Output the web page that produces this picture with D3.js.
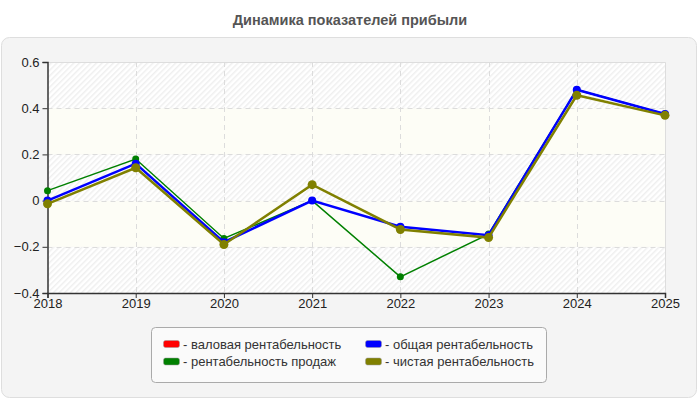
<!DOCTYPE html>
<html>
<head>
<meta charset="utf-8">
<script src="https://cdnjs.cloudflare.com/ajax/libs/d3/7.8.5/d3.min.js"></script>
<style>
  body { margin: 0; background: #fff; }
  text { font-family: "Liberation Sans", Arial, sans-serif; }
</style>
</head>
<body>
<div id="chart"></div>
<script>
var width = 700,
    height = 400;

var years = [2018, 2019, 2020, 2021, 2022, 2023, 2024, 2025];
var yTicks = [-0.4, -0.2, 0, 0.2, 0.4, 0.6];

var grossValues = [null, null, null, null, null, null, null, null];
var totalValues = [0.0, 0.16, -0.18, 0.0, -0.113, -0.15, 0.48, 0.375];
var salesValues = [0.043, 0.18, -0.164, 0.0, -0.33, -0.145, 0.48, 0.375];
var netValues = [-0.014, 0.142, -0.19, 0.069, -0.125, -0.16, 0.456, 0.369];

var seriesNames = ["валовая рентабельность", "рентабельность продаж", "общая рентабельность", "чистая рентабельность"];
var seriesColors = ["#ff0000", "#008000", "#0000ff", "#808000"];

var series = [
    {name: seriesNames[0], color: seriesColors[0], values: grossValues, w: 2.5, r: 4},
    {name: seriesNames[1], color: seriesColors[1], values: salesValues, w: 1.5, r: 3.5},
    {name: seriesNames[2], color: seriesColors[2], values: totalValues, w: 2.5, r: 4},
    {name: seriesNames[3], color: seriesColors[3], values: netValues, w: 2.5, r: 4.5}
];

var margin = {left: 47.5, right: 35, top: 62, bottom: 107};

var svg = d3.select("#chart")
    .append("svg")
    .attr("width", width)
    .attr("height", height)

// hatch pattern
var defs = svg.append("defs")
var pat = defs.append("pattern")
    .attr("id", "hatch")
    .attr("patternUnits", "userSpaceOnUse")
    .attr("width", 4)
    .attr("height", 4)
    .attr("patternTransform", "rotate(45)")
pat.append("rect").attr("width", 4).attr("height", 4).attr("fill", "#ffffff")
pat.append("rect").attr("width", 1.5).attr("height", 4).attr("fill", "#efefef")

svg.append("text")
    .attr("x", width / 2)
    .attr("y", 25)
    .attr("text-anchor", "middle")
    .attr("font-size", 14.5)
    .attr("font-weight", "bold")
    .attr("fill", "#555")
    .text("Динамика показателей прибыли")

svg.append("rect")
    .attr("x", 1.5)
    .attr("y", 37.5)
    .attr("width", 695)
    .attr("height", 360)
    .attr("rx", 8)
    .attr("fill", "#f4f4f4")
    .attr("stroke", "#dedede")

var x = d3.scaleLinear()
    .domain([years[0], years[years.length - 1]])
    .range([margin.left, width - margin.right])

var y = d3.scaleLinear()
    .domain([-0.4, 0.6])
    .range([height - margin.bottom, margin.top])

// bands
var bands = d3.range(yTicks.length - 1)
svg.selectAll(".band")
    .data(bands)
    .enter().append("rect")
    .attr("class", "band")
    .attr("x", x.range()[0])
    .attr("width", x.range()[1] - x.range()[0])
    .attr("y", function(i){ return y(yTicks[i + 1]) })
    .attr("height", function(i){ return y(yTicks[i]) - y(yTicks[i + 1]) })
    .attr("fill", function(i){ return i % 2 == 0 ? "url(#hatch)" : "#fdfdf6" })

// frame top/right
svg.append("path")
    .attr("d", "M" + x.range()[0] + "," + (y(0.6) + 0.5) + "H" + (x.range()[1] + 0.5) + "V" + y(-0.4))
    .attr("fill", "none")
    .attr("stroke", "#dddddd")

// grid
svg.selectAll(".hgrid")
    .data(yTicks.slice(1, -1))
    .enter().append("line")
    .attr("x1", x.range()[0])
    .attr("x2", x.range()[1])
    .attr("y1", function(d){ return Math.round(y(d)) + 0.5 })
    .attr("y2", function(d){ return Math.round(y(d)) + 0.5 })
    .attr("stroke", "#dcdcdc")
    .attr("stroke-dasharray", "5,4")

svg.selectAll(".vgrid")
    .data(years.slice(1, -1))
    .enter().append("line")
    .attr("y1", y(0.6))
    .attr("y2", y(-0.4))
    .attr("x1", function(d){ return Math.round(x(d)) + 0.5 })
    .attr("x2", function(d){ return Math.round(x(d)) + 0.5 })
    .attr("stroke", "#dcdcdc")
    .attr("stroke-dasharray", "5,4")

// axes
svg.append("g")
    .attr("transform", "translate(" + x.range()[0] + ",0)")
    .call(d3.axisLeft(y).tickValues(yTicks).tickSize(5).tickPadding(3)
        .tickFormat(function(d){ return d == 0 ? "0" : d3.format(".1f")(d) }))
svg.append("g")
    .attr("transform", "translate(0," + y(-0.4) + ")")
    .call(d3.axisBottom(x).tickValues(years).tickSize(5).tickPadding(1).tickFormat(d3.format("d")))

svg.selectAll(".domain").attr("stroke", "#333").attr("stroke-width", 1.5)
svg.selectAll(".tick line").attr("stroke", "#333")
svg.selectAll(".tick text").attr("font-size", 13).attr("fill", "#222")
    .attr("font-family", "'Liberation Sans', Arial, sans-serif")

// lines
var line = d3.line()
    .defined(function(d){ return d != null })
    .x(function(d, i){ return x(years[i]) })
    .y(function(d){ return y(d) })

series.forEach(function(s){
    svg.append("path")
        .datum(s.values)
        .attr("fill", "none")
        .attr("stroke", s.color)
        .attr("stroke-width", s.w)
        .attr("d", line)
    svg.selectAll(null)
        .data(s.values.map(function(v, i){ return {v: v, i: i} }).filter(function(d){ return d.v != null }))
        .enter().append("circle")
        .attr("cx", function(d){ return x(years[d.i]) })
        .attr("cy", function(d){ return y(d.v) })
        .attr("r", s.r)
        .attr("fill", s.color)
})

// legend
var legend = svg.append("g")
legend.append("rect")
    .attr("x", 151.5)
    .attr("y", 327.5)
    .attr("width", 395)
    .attr("height", 55)
    .attr("rx", 4)
    .attr("fill", "#fafafa")
    .attr("stroke", "#aaaaaa")

var legendPos = [[163, 344], [163, 361.5], [365, 344], [365, 361.5]]
series.forEach(function(s, i){
    var p = legendPos[i]
    legend.append("rect")
        .attr("x", p[0] + 0.5)
        .attr("y", p[1] - 3.5)
        .attr("width", 16)
        .attr("height", 7)
        .attr("rx", 2)
        .attr("fill", s.color)
        .attr("stroke", "#999")
        .attr("stroke-width", 0.5)
    legend.append("text")
        .attr("x", p[0] + 20)
        .attr("y", p[1] + 4.5)
        .attr("font-size", 13)
        .attr("fill", "#333")
        .text("- " + s.name)
})
</script>
</body>
</html>
